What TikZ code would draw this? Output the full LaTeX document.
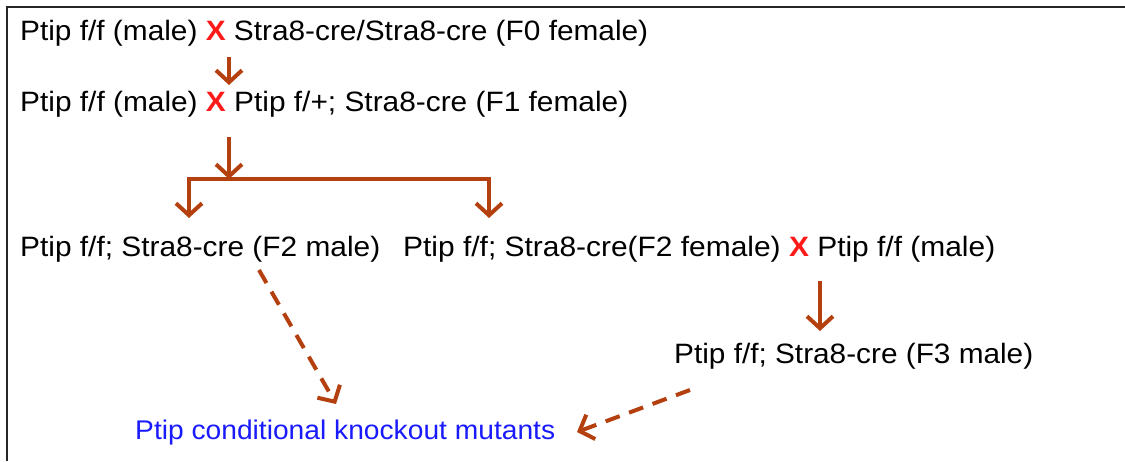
\documentclass[tikz,border=0pt]{standalone}
\usepackage{fontspec}
\setmainfont{Liberation Sans}
\usetikzlibrary{arrows.meta}
\definecolor{rust}{HTML}{B5400F}
\definecolor{xred}{HTML}{FF1A1A}
\definecolor{kblue}{HTML}{1A1AFF}
\newcommand{\crossmark}{\textcolor{xred}{\textbf{X}}}
\newcommand{\fitw}[2]{\resizebox{#1}{\height}{#2}}
\tikzset{
  lbl/.style={anchor=base west, inner sep=0pt, font=\fontsize{28}{32}\selectfont},
  flow/.style={draw=rust, line width=4pt, -{Straight Barb[length=12pt,width=26pt,line width=4pt]}},
  plain/.style={draw=rust, line width=3.6pt},
  dflow/.style={flow, dash pattern=on 15pt off 10pt}
}
\begin{document}
\begin{tikzpicture}[x=1pt,y=-1pt]
\useasboundingbox (0,0) rectangle (1125,461);
\draw[line width=2.5pt, black!85] (7,461) -- (7,7) -- (1125,7);
\node[lbl] (l1) at (20,40) {\fitw{628pt}{Ptip f/f (male) \crossmark{} Stra8-cre/Stra8-cre (F0 female)}};
\node[lbl] (l2) at (20,111) {\fitw{608pt}{Ptip f/f (male) \crossmark{} Ptip f/+; Stra8-cre (F1 female)}};
\node[lbl] (m2) at (20,256) {\fitw{360pt}{Ptip f/f; Stra8-cre (F2 male)}};
\node[lbl] (f2) at (403,256) {\fitw{592pt}{Ptip f/f; Stra8-cre(F2 female) \crossmark{} Ptip f/f (male)}};
\node[lbl] (m3) at (674,363) {\fitw{359pt}{Ptip f/f; Stra8-cre (F3 male)}};
\node[lbl, text=kblue, font=\fontsize{27}{30}\selectfont] (ko) at (135,439) {\fitw{420pt}{Ptip conditional knockout mutants}};
\coordinate (a1s) at (229,57);
\coordinate (a1e) at (229,85);
\coordinate (a2s) at (229,137);
\coordinate (jn) at (229,179);
\coordinate (lj) at (189,179);
\coordinate (rj) at (489,179);
\coordinate (le) at (189,218);
\coordinate (re) at (489,218);
\coordinate (a3s) at (820,281);
\coordinate (a3e) at (820,331);
\coordinate (d1s) at (259,270);
\coordinate (d1e) at (336,404);
\coordinate (d2s) at (690,390);
\coordinate (d2e) at (577,432);
\draw[flow] (a1s) -- (a1e);
\draw[flow] (a2s) -- (jn);
\draw[plain, line cap=rect] (lj) -- (rj);
\draw[flow] (lj) -- (le);
\draw[flow] (rj) -- (re);
\draw[flow] (a3s) -- (a3e);
\draw[dflow] (d1s) -- (d1e);
\draw[dflow] (d2s) -- (d2e);
\end{tikzpicture}
\end{document}
